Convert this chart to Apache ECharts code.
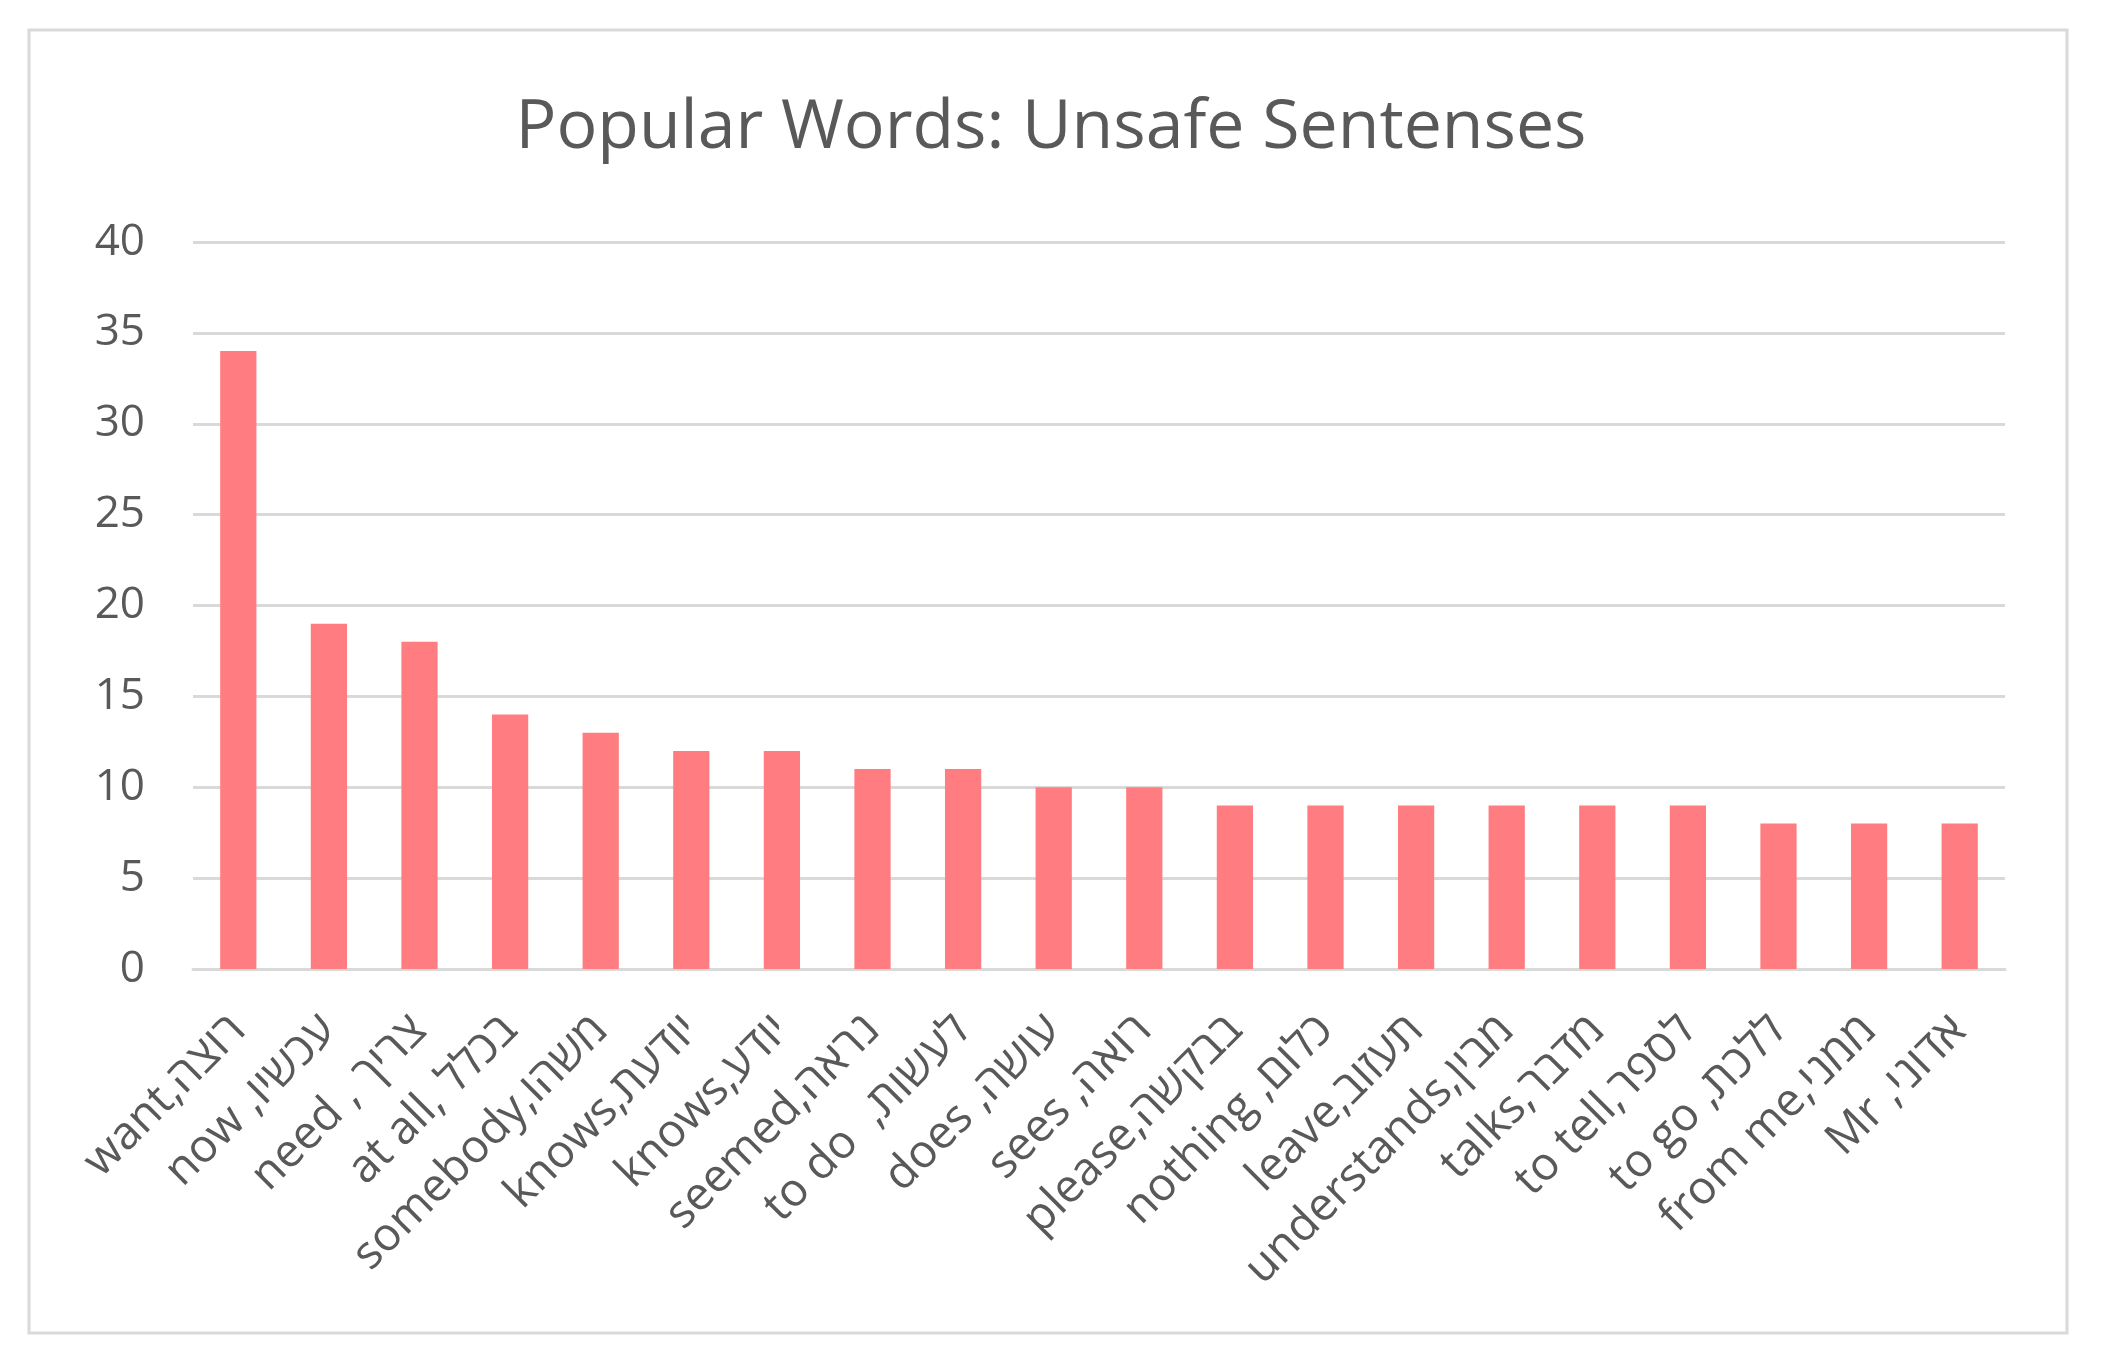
<!DOCTYPE html>
<html>
<head>
<meta charset="utf-8">
<style>
html,body{margin:0;padding:0;background:#fff;}
#chart{width:2102px;height:1364px;}
</style>
<script src="https://cdn.jsdelivr.net/npm/echarts@6/dist/echarts.min.js"></script>
</head>
<body>
<div id="chart"></div>
<script>
const titleText = "Popular Words: Unsafe Sentenses";
const categories = [
  "want,רוצה",
  "now ,עכשיו",
  "need , צריך",
  "at all, בכלל",
  "somebody,משהו",
  "knows,יודעת",
  "knows,יודע",
  "seemed,נראה",
  "to do  ,לעשות",
  "does ,עושה",
  "sees ,רואה",
  "please,בבקשה",
  "nothing ,כלום",
  "leave,תעזוב",
  "understands,מבין",
  "talks,מדבר",
  "to tell,לספר",
  "to go ,ללכת",
  "from me,ממני",
  "Mr ,אדוני"
];
const counts = [34, 19, 18, 14, 13, 12, 12, 11, 11, 10, 10, 9, 9, 9, 9, 9, 9, 8, 8, 8];
const yTicks = [0, 5, 10, 15, 20, 25, 30, 35, 40];

const chart = echarts.init(document.getElementById('chart'), null, {renderer: 'canvas'});
const font = "'Open Sans', 'Noto Sans', 'DejaVu Sans', sans-serif";
chart.setOption({
  backgroundColor: '#ffffff',
  animation: false,
  textStyle: {fontFamily: font},
  graphic: [{
    type: 'rect',
    shape: {x: 29, y: 30, width: 2038, height: 1303},
    style: {fill: 'none', stroke: '#d9d9d9', lineWidth: 3},
    silent: true
  }],
  title: {
    text: titleText,
    left: 'center',
    top: 90,
    textStyle: {fontFamily: font, fontSize: 68, fontWeight: 'normal', color: '#595959'}
  },
  grid: {left: 193, right: 97, top: 242, bottom: 395, containLabel: false},
  xAxis: {
    type: 'category',
    data: categories,
    axisLine: {show: true, lineStyle: {color: '#d9d9d9', width: 3}},
    axisTick: {show: false},
    axisLabel: {
      interval: 0,
      rotate: 45,
      margin: 54,
      fontSize: 46,
      color: '#595959',
      fontFamily: font
    }
  },
  yAxis: {
    type: 'value',
    min: yTicks[0],
    max: yTicks[yTicks.length - 1],
    interval: 5,
    axisLine: {show: false},
    axisTick: {show: false},
    splitLine: {lineStyle: {color: '#d9d9d9', width: 3}},
    axisLabel: {fontSize: 44, color: '#595959', margin: 48, fontFamily: font}
  },
  series: [{
    type: 'bar',
    data: counts,
    barWidth: '40%',
    itemStyle: {color: '#ff7c80'}
  }]
});
</script>
</body>
</html>
